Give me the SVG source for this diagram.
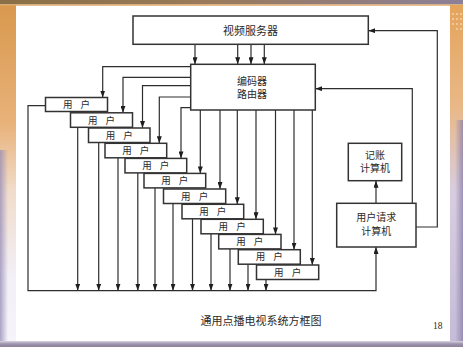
<svg xmlns="http://www.w3.org/2000/svg" width="463" height="347" viewBox="0 0 463 347">
  <defs>
    <style>
      .box { fill: #ffffff; stroke: #333333; stroke-width: 1.5; }
      .wire { fill: none; stroke: #2e2e2e; stroke-width: 1.2; }
      .arrow { fill: none; stroke: #2e2e2e; stroke-width: 1.2; marker-end: url(#head); }
      .lbl { font-family: "Noto Sans CJK SC", "Noto Sans", sans-serif; font-size: 11px; fill: #2a2a2a; text-anchor: middle; }
      .two { font-family: "Noto Sans CJK SC", "Noto Sans", sans-serif; font-size: 10px; fill: #2a2a2a; text-anchor: middle; }
      .usr { font-family: "Noto Sans CJK SC", "Noto Sans", sans-serif; font-size: 9.5px; fill: #2a2a2a; text-anchor: middle; word-spacing: 6px; }
      .pg { font-family: "Liberation Serif", serif; font-size: 9.5px; fill: #2a2a2a; }
    </style>
    <marker id="head" viewBox="0 0 7 5" refX="7" refY="2.5" markerWidth="7" markerHeight="5" markerUnits="userSpaceOnUse" orient="auto">
      <path d="M0,0 L7,2.5 L0,5 z" fill="#1e1e1e"/>
    </marker>
    <linearGradient id="topBand" x1="0" y1="0" x2="1" y2="0">
      <stop offset="0" stop-color="#8a7046"/>
      <stop offset="0.45" stop-color="#9a7a5a"/>
      <stop offset="1" stop-color="#8c8098"/>
    </linearGradient>
    <linearGradient id="leftBand" x1="0" y1="0" x2="0" y2="1">
      <stop offset="0" stop-color="#d9994e"/>
      <stop offset="0.35" stop-color="#e8b27a"/>
      <stop offset="0.55" stop-color="#f1dccb"/>
      <stop offset="0.8" stop-color="#f2eff6"/>
      <stop offset="1" stop-color="#f6f4fa"/>
    </linearGradient>
    <linearGradient id="rightBand" x1="0" y1="0" x2="0" y2="1">
      <stop offset="0" stop-color="#e4a45c"/>
      <stop offset="0.3" stop-color="#e9b887"/>
      <stop offset="0.55" stop-color="#d8cde0"/>
      <stop offset="1" stop-color="#c4bcd8"/>
    </linearGradient>
    <linearGradient id="edgeShade" x1="0" y1="0" x2="1" y2="0">
      <stop offset="0" stop-color="#9a90b8" stop-opacity="0.8"/>
      <stop offset="1" stop-color="#9a90b8" stop-opacity="0"/>
    </linearGradient>
    <linearGradient id="edgeShadeR" x1="1" y1="0" x2="0" y2="0">
      <stop offset="0" stop-color="#8c82ac" stop-opacity="0.8"/>
      <stop offset="1" stop-color="#8c82ac" stop-opacity="0"/>
    </linearGradient>
    <linearGradient id="bottomBand" x1="0" y1="0" x2="0" y2="1">
      <stop offset="0" stop-color="#d8d2e2"/>
      <stop offset="0.5" stop-color="#9d93aa"/>
      <stop offset="1" stop-color="#8a8098"/>
    </linearGradient>
  </defs>

  <!-- slide frame -->
  <rect x="0" y="0" width="463" height="347" fill="#ffffff"/>
  <rect x="0" y="5" width="16" height="338" fill="url(#leftBand)"/>
  <rect x="0" y="150" width="8" height="193" fill="url(#edgeShade)"/>
  <rect x="450" y="5" width="13" height="338" fill="url(#rightBand)"/>
  <rect x="455" y="120" width="8" height="223" fill="url(#edgeShadeR)"/>
  <g fill="#f4d2a8">
    <circle cx="453" cy="14" r="1"/><circle cx="457" cy="14" r="1"/><circle cx="461" cy="14" r="1"/>
    <circle cx="453" cy="19" r="1"/><circle cx="457" cy="19" r="1"/><circle cx="461" cy="19" r="1"/>
    <circle cx="453" cy="24" r="1"/><circle cx="457" cy="24" r="1"/><circle cx="461" cy="24" r="1"/>
    <circle cx="457" cy="29" r="1"/><circle cx="461" cy="29" r="1"/>
  </g>
  <rect x="0" y="0" width="463" height="4.5" fill="url(#topBand)"/>
  <rect x="0" y="4.5" width="463" height="1.2" fill="#e2a35c"/>
  <rect x="0" y="341" width="463" height="6" fill="url(#bottomBand)"/>

  <!-- connectors -->
  <g id="connectors">
    <!-- server to encoder -->
    <line class="arrow" x1="195" y1="44.3" x2="195" y2="64.3"/>
    <line class="arrow" x1="237.7" y1="44.3" x2="237.7" y2="64.3"/>
    <line class="arrow" x1="251" y1="44.3" x2="251" y2="64.3"/>
    <line class="arrow" x1="264.3" y1="44.3" x2="264.3" y2="64.3"/>
    <!-- encoder left side to users 1-5 -->
    <path class="arrow" d="M190.7,66.7 H102.7 V97.5"/>
    <path class="arrow" d="M190.7,77.3 H123 V112.8"/>
    <path class="arrow" d="M190.7,85.7 H142.5 V128"/>
    <path class="arrow" d="M190.7,97 H159.3 V143.3"/>
    <path class="arrow" d="M190.7,107.7 H181 V158.4"/>
    <!-- encoder bottom to users 6-12 -->
    <line class="arrow" x1="200.3" y1="110" x2="200.3" y2="173.4"/>
    <line class="arrow" x1="220" y1="110" x2="220" y2="189"/>
    <line class="arrow" x1="237.3" y1="110" x2="237.3" y2="204.3"/>
    <line class="arrow" x1="256" y1="110" x2="256" y2="219.3"/>
    <line class="arrow" x1="275.5" y1="110" x2="275.5" y2="234.4"/>
    <line class="arrow" x1="294" y1="110" x2="294" y2="249.7"/>
    <line class="arrow" x1="312.3" y1="110" x2="312.3" y2="265"/>
    <!-- users to request bus -->
    <line class="arrow" x1="77.7" y1="127.3" x2="77.7" y2="290.7"/>
    <line class="arrow" x1="98.7" y1="142.5" x2="98.7" y2="290.7"/>
    <line class="arrow" x1="118" y1="157.8" x2="118" y2="290.7"/>
    <line class="arrow" x1="137.8" y1="172.9" x2="137.8" y2="290.7"/>
    <line class="arrow" x1="155" y1="187.9" x2="155" y2="290.7"/>
    <line class="arrow" x1="173" y1="203.5" x2="173" y2="290.7"/>
    <line class="arrow" x1="192.5" y1="218.8" x2="192.5" y2="290.7"/>
    <line class="arrow" x1="211" y1="233.8" x2="211" y2="290.7"/>
    <line class="arrow" x1="230" y1="248.9" x2="230" y2="290.7"/>
    <line class="arrow" x1="248" y1="264.2" x2="248" y2="290.7"/>
    <line class="arrow" x1="266" y1="279.5" x2="266" y2="290.7"/>
    <!-- bus from user 1 round to the request computer -->
    <path class="arrow" d="M45.5,105.7 H28 V290.7 H376 V247"/>
    <!-- request computer to billing -->
    <line class="arrow" x1="376" y1="203.3" x2="376" y2="180.7"/>
    <!-- request computer back to encoder and server -->
    <path class="arrow" d="M412.3,203.3 V88.7 H315.3"/>
    <path class="arrow" d="M416,227 H437.3 V30.7 H368.3"/>
  </g>

  <!-- nodes -->
  <g id="video-server">
    <rect class="box" x="133" y="16" width="235.3" height="28.3"/>
    <text class="lbl" x="250.5" y="35">视频服务器</text>
  </g>
  <g id="encoder-router">
    <rect class="box" x="190.7" y="64.3" width="124.6" height="45.7"/>
    <text class="two" x="252" y="84.5">编码器</text>
    <text class="two" x="252" y="98">路由器</text>
  </g>
  <g id="billing">
    <rect class="box" x="348.3" y="143.3" width="53.4" height="37.4"/>
    <text class="two" x="375" y="158.5">记账</text>
    <text class="two" x="375" y="172">计算机</text>
  </g>
  <g id="request-computer">
    <rect class="box" x="336.7" y="203.3" width="79.3" height="43.7"/>
    <text class="two" x="376.3" y="221">用户请求</text>
    <text class="two" x="376.3" y="234.5">计算机</text>
  </g>

  <g id="user-1"><rect class="box" x="45.5" y="97.5" width="62" height="14"/><text class="usr" x="76.5" y="108">用 户</text></g>
  <g id="user-2"><rect class="box" x="70.5" y="112.8" width="62" height="14.5"/><text class="usr" x="101.5" y="123.5">用 户</text></g>
  <g id="user-3"><rect class="box" x="88.5" y="128" width="61.5" height="14.5"/><text class="usr" x="119.3" y="138.7">用 户</text></g>
  <g id="user-4"><rect class="box" x="105" y="143.3" width="61.7" height="14.5"/><text class="usr" x="135.8" y="154">用 户</text></g>
  <g id="user-5"><rect class="box" x="125" y="158.4" width="61.7" height="14.5"/><text class="usr" x="155.8" y="169.1">用 户</text></g>
  <g id="user-6"><rect class="box" x="144" y="173.4" width="61.7" height="14.5"/><text class="usr" x="174.8" y="184.1">用 户</text></g>
  <g id="user-7"><rect class="box" x="163.5" y="189" width="62.2" height="14.5"/><text class="usr" x="194.6" y="199.7">用 户</text></g>
  <g id="user-8"><rect class="box" x="182" y="204.3" width="61.7" height="14.5"/><text class="usr" x="212.8" y="215">用 户</text></g>
  <g id="user-9"><rect class="box" x="201" y="219.3" width="62.3" height="14.5"/><text class="usr" x="232.1" y="230">用 户</text></g>
  <g id="user-10"><rect class="box" x="218.7" y="234.4" width="62.3" height="14.5"/><text class="usr" x="249.8" y="245.1">用 户</text></g>
  <g id="user-11"><rect class="box" x="238.3" y="249.7" width="62" height="14.5"/><text class="usr" x="269.3" y="260.4">用 户</text></g>
  <g id="user-12"><rect class="box" x="256.5" y="265" width="62.2" height="14.5"/><text class="usr" x="287.6" y="275.7">用 户</text></g>

  <!-- caption and page number -->
  <text class="lbl" x="261" y="325">通用点播电视系统方框图</text>
  <text class="pg" x="433" y="329.3">18</text>
</svg>
